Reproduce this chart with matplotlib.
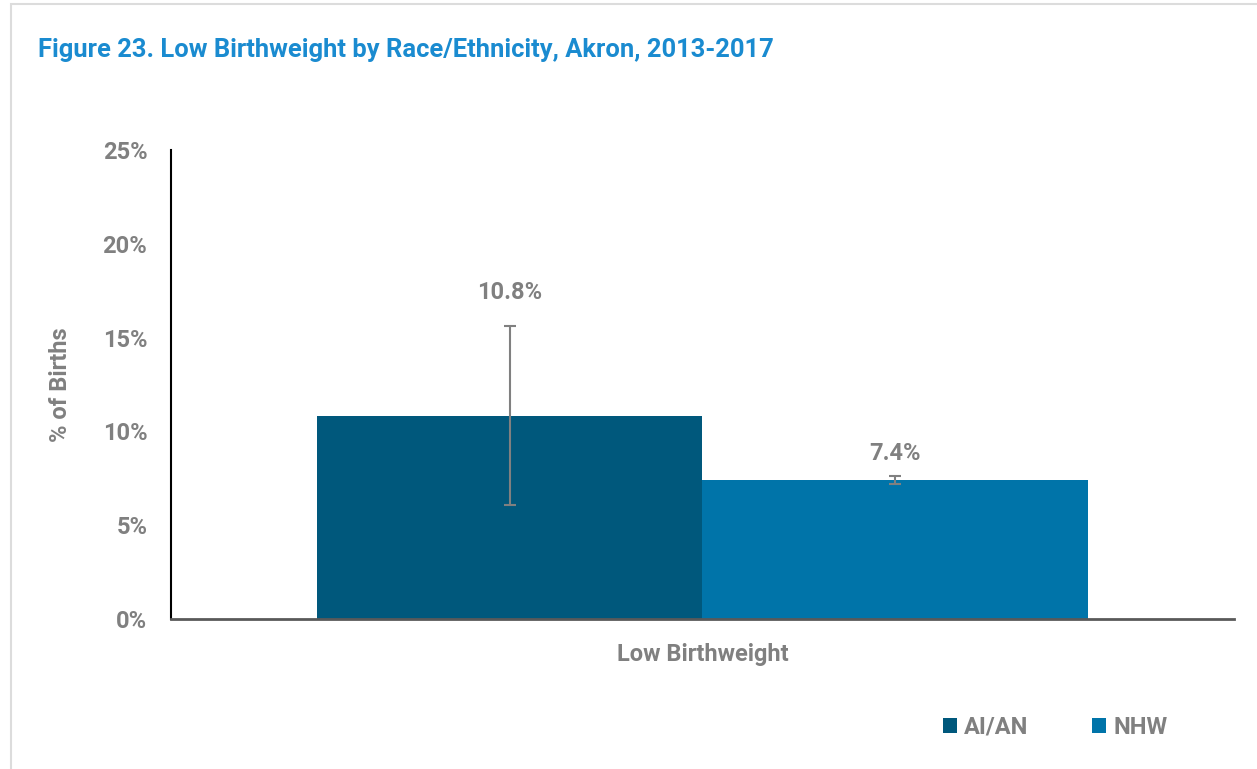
import matplotlib
matplotlib.use("Agg")
import matplotlib.pyplot as plt
from matplotlib.patches import Rectangle, Patch
import numpy as np

# Daten
kategorie = "Low Birthweight"
gruppen = ["AI/AN", "NHW"]
werte = [10.8, 7.4]
fehler_unten = [6.1, 7.2]
fehler_oben = [15.6, 7.6]
y_ticks = [0, 5, 10, 15, 20, 25]

farben = ["#00587c", "#0074a9"]
grau = "#808080"

plt.rcParams['font.family'] = ['Roboto', 'Liberation Sans', 'DejaVu Sans']
plt.rcParams['font.weight'] = 'bold'

fig = plt.figure(figsize=(12.57, 7.69), dpi=100)
ax = fig.add_axes([0.136, 0.195, 0.8457, 0.61])

# Rahmen um das Bild
fig.patches.append(Rectangle((11/1257, -0.05), 1.2, 1.05 - 4/769,
                             transform=fig.transFigure, fill=False,
                             edgecolor="#dcdcdc", lw=1.5))

breite = 0.363
x = np.array([-breite/2, breite/2])
ax.bar(x, werte, width=breite, color=farben, zorder=2)

# Fehlerbalken
yerr = [np.array(werte) - np.array(fehler_unten), np.array(fehler_oben) - np.array(werte)]
ax.errorbar(x, werte, yerr=yerr, fmt="none", ecolor=grau, elinewidth=1.5,
            capsize=4.5, capthick=1.5, zorder=3)

# Beschriftungen
abstaende = [16, 8]
for xi, w, hi, d in zip(x, werte, fehler_oben, abstaende):
    ax.annotate(f"{w}%", (xi, hi), xytext=(0, d), textcoords="offset points",
                ha="center", va="bottom", fontsize=17, color=grau, fontweight="bold")

ax.set_xlim(-0.5, 0.5)
ax.set_ylim(0, 25)
ax.set_yticks(y_ticks)
ax.set_yticklabels([f"{t}%" for t in y_ticks])
ax.set_xticks([0])
ax.set_xticklabels([kategorie])
ax.tick_params(axis="both", length=0, labelsize=17, labelcolor=grau)
ax.tick_params(axis="y", pad=17)
ax.tick_params(axis="x", pad=17)
ax.set_ylabel("% of Births", fontsize=17, color=grau, fontweight="bold", labelpad=22)

ax.spines["top"].set_visible(False)
ax.spines["right"].set_visible(False)
ax.spines["left"].set_color("black")
ax.spines["left"].set_linewidth(1.5)
ax.spines["bottom"].set_color("#595959")
ax.spines["bottom"].set_linewidth(2)

fig.text(38/1257, 1 - 50/769, "Figure 23. Low Birthweight by Race/Ethnicity, Akron, 2013-2017",
         fontsize=18.4, color="#1a8bd0", fontweight="bold", va="center", ha="left")

handles = [Patch(facecolor=f, label=g) for f, g in zip(farben, gruppen)]
leg = fig.legend(handles=handles, loc="center", bbox_to_anchor=(1055/1257, 1 - 727/769),
                 ncol=2, frameon=False, fontsize=17, handlelength=0.6, handleheight=0.6,
                 handletextpad=0.3, columnspacing=2.7)
for t in leg.get_texts():
    t.set_color(grau)

fig.savefig("out.png", dpi=100)
